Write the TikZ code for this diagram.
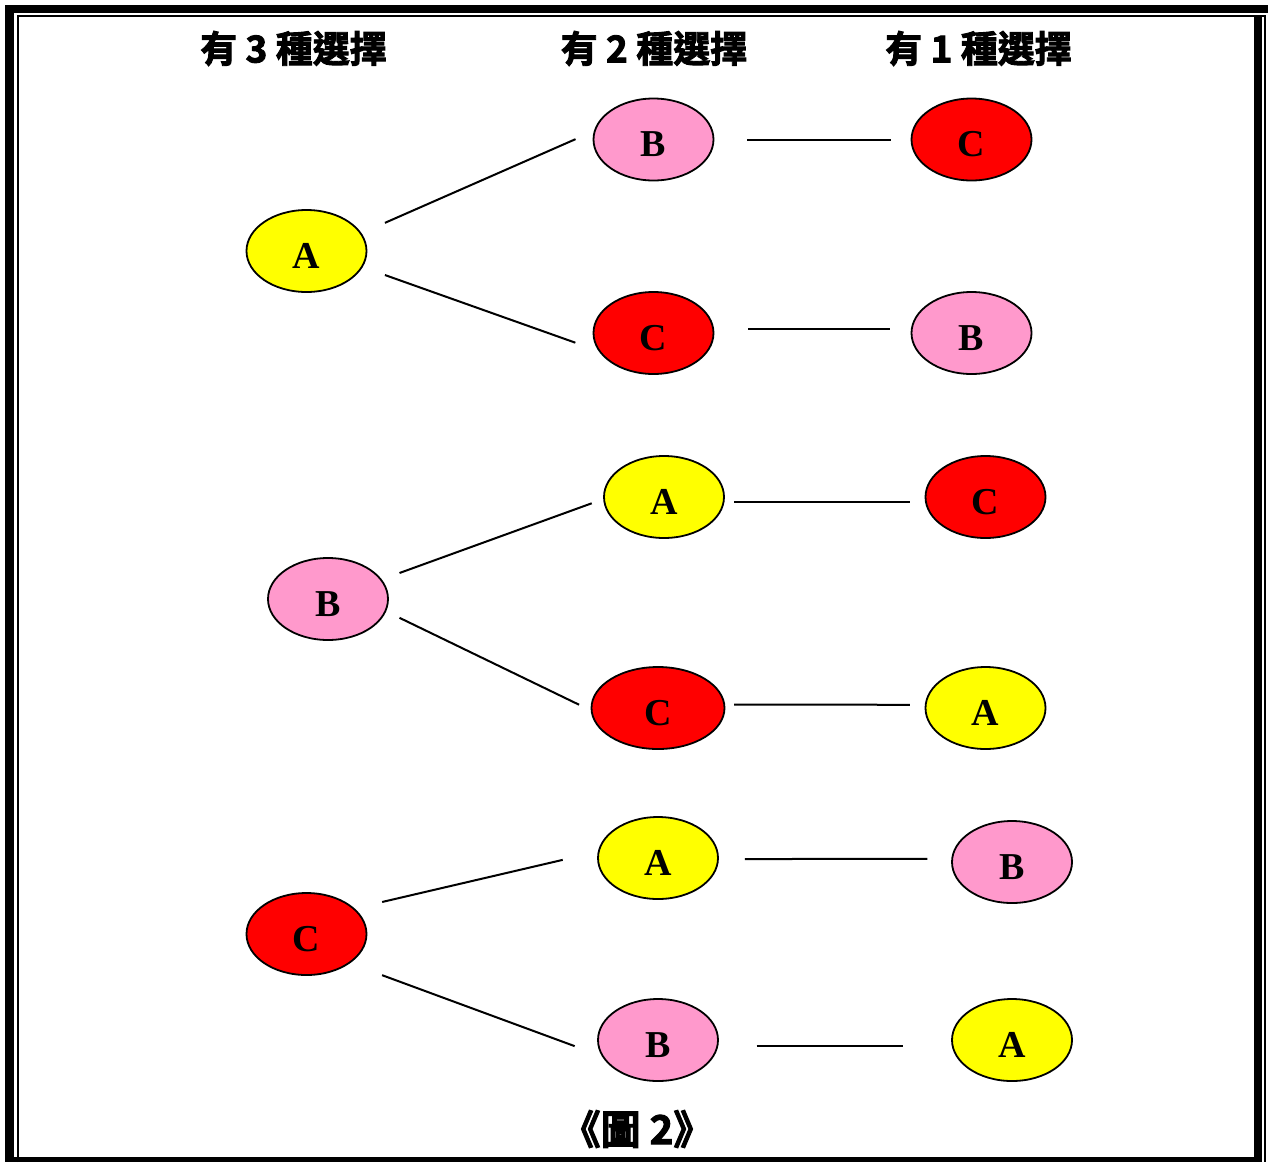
\documentclass[tikz,border=0pt]{standalone}
\usepackage{fontspec}
\setmainfont{Liberation Serif}
\newfontfamily\cjk{Noto Sans CJK TC Bold}[FakeBold=2.5]
\usetikzlibrary{shapes.geometric}
\definecolor{ballyellow}{HTML}{FFFF00}
\definecolor{ballpink}{HTML}{FF99CC}
\definecolor{ballred}{HTML}{FF0000}

\begin{document}
\begin{tikzpicture}[x=0.5pt, y=-0.5pt,
		ball/.style={ellipse, draw, line width=0.9pt, minimum width=60pt, minimum height=41pt, inner sep=0pt,
			text height=17pt, text depth=0pt, font=\fontsize{19}{19}\selectfont\bfseries},
		ya/.style={ball, fill=ballyellow},
		pb/.style={ball, fill=ballpink},
		rc/.style={ball, fill=ballred},
		branch/.style={line width=1pt},
		caption/.style={font=\cjk\fontsize{18.5}{18.5}\selectfont}]
	\useasboundingbox (0, 0) rectangle (1268, 1162);
	% double frame round the page
	\fill (5, 5) rectangle (1268, 13);
	\fill (5, 5) rectangle (14, 1162);
	\fill (1254, 16) rectangle (1262, 1162);
	\fill (14, 1157) rectangle (1262, 1162);
	\draw[line width=1pt] (18, 1162) -- (18, 16) -- (1264.5, 16) -- (1264.5, 1162);

	\node[caption] (h3) at (293.5, 48.5) {有 3 種選擇};
	\node[caption] (h2) at (654, 48.5) {有 2 種選擇};
	\node[caption] (h1) at (978.5, 48.5) {有 1 種選擇};
	\node[caption, font=\cjk\fontsize{20}{20}\selectfont] (fig) at (637, 1129) {《圖 2》};

	% first pick
	\node[ya] (a) at (306.5, 251) {A};
	\node[pb] (b) at (328, 599) {B};
	\node[rc] (c) at (306.5, 934) {C};
	% second pick
	\node[pb] (ab) at (653.5, 139.5) {B};
	\node[rc] (ac) at (653.5, 333) {C};
	\node[ya] (ba) at (664, 497) {A};
	\node[rc, minimum width=66.5pt] (bc) at (658, 708) {C};
	\node[ya] (ca) at (658, 858) {A};
	\node[pb] (cb) at (658, 1040) {B};
	% last pick
	\node[rc] (abc) at (971.5, 139.5) {C};
	\node[pb] (acb) at (971.5, 333) {B};
	\node[rc] (bac) at (985.5, 497) {C};
	\node[ya] (bca) at (985.5, 708) {A};
	\node[pb] (cab) at (1012, 862) {B};
	\node[ya] (cba) at (1012, 1040) {A};

	\draw[branch, shorten <=12.75pt, shorten >=10pt] (a.18) -- (ab.172);
	\draw[branch, shorten <=11.8pt, shorten >=12.25pt] (a.-16) -- (ac.198);
	\draw[branch, shorten <=16.5pt, shorten >=10pt] (ab.east) -- (abc.west);
	\draw[branch, shorten <=17pt, shorten >=10.5pt] (ac.4) -- (acb.176);
	\draw[branch, shorten <=9.4pt, shorten >=6.1pt] (b.20) -- (ba.182);
	\draw[branch, shorten <=7.4pt, shorten >=6.45pt] (b.-12) -- (bc.182);
	\draw[branch, shorten <=5pt, shorten >=7.75pt] (ba.-5) -- (bac.185);
	\draw[branch, shorten <=4.5pt, shorten >=7.5pt] (bc.3) -- (bca.177);
	\draw[branch, shorten <=14.1pt, shorten >=18pt] (c.28) -- (ca.174);
	\draw[branch, shorten <=17.1pt, shorten >=14.45pt] (c.-34) -- (cb.196);
	\draw[branch, shorten <=13pt, shorten >=12pt] (ca.-1) -- (cab.177);
	\draw[branch, shorten <=19.2pt, shorten >=24.2pt] (cb.-6) -- (cba.186);
\end{tikzpicture}
\end{document}
